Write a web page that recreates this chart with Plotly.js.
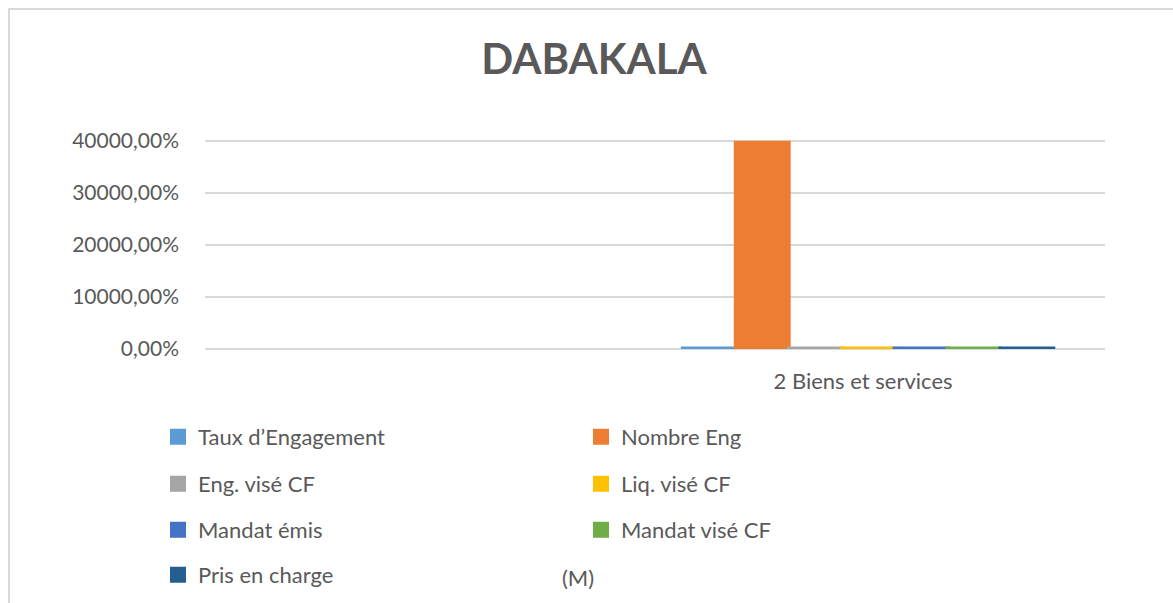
<!DOCTYPE html>
<html>
<head>
<meta charset="utf-8">
<script src="https://cdn.plot.ly/plotly-3.0.1.min.js"></script>
<style>
  html, body { margin: 0; padding: 0; background: #ffffff; }
  #chart { width: 1173px; height: 603px; position: absolute; left: 0; top: 0; }
  #frame { position: absolute; left: 8px; top: 8px; width: 1165px; height: 595px;
           border-left: 2px solid #d9d9d9; border-top: 2px solid #d9d9d9; pointer-events: none; }
</style>
</head>
<body>
<div id="chart"></div>
<div id="frame"></div>
<script>
// ---- data ----
var categories = [" ", "2 Biens et services"];
var seriesNames = ["Taux d\u2019Engagement", "Nombre Eng", "Eng. vis\u00e9 CF", "Liq. vis\u00e9 CF",
                   "Mandat \u00e9mis", "Mandat vis\u00e9 CF", "Pris en charge"];
var tauxEngagement = [null, 0.8];
var nombreEng      = [null, 397];
var engViseCF      = [null, 0.8];
var liqViseCF      = [null, 0.8];
var mandatEmis     = [null, 0.8];
var mandatViseCF   = [null, 0.8];
var prisEnCharge   = [null, 0.8];
var yTicks = [0, 100, 200, 300, 400];
var extraLegendText = "(M)";

var seriesValues = [tauxEngagement, nombreEng, engViseCF, liqViseCF, mandatEmis, mandatViseCF, prisEnCharge];
var colors = ["#5B9BD5", "#ED7D31", "#A5A5A5", "#FFC000", "#4472C4", "#70AD47", "#255E91"];
var legendIds = ["legend", "legend", "legend2", "legend2", "legend3", "legend3", "legend4"];

var traces = seriesNames.map(function (name, i) {
  return {
    type: "bar",
    name: name,
    x: categories,
    y: seriesValues[i],
    marker: { color: colors[i], line: { color: colors[i], width: 4 } },
    legend: legendIds[i],
    hoverinfo: "skip"
  };
});

var txt = "#595959";
var fam = "Lato, 'Open Sans', sans-serif";
var legendFont = { family: fam, size: 22, color: txt };
function mkLegend(yPaper) {
  return {
    orientation: "h", x: (158 - 205) / 900, xanchor: "left", y: yPaper, yanchor: "middle",
    entrywidth: 378, entrywidthmode: "pixels", font: legendFont,
    bgcolor: "rgba(0,0,0,0)", borderwidth: 0, traceorder: "normal"
  };
}
// plot area: top 139px, bottom 349px (height 210)
function py(p) { return (349 - p) / 210; }

var layout = {
  width: 1173, height: 603,
  margin: { l: 205, r: 68, t: 139, b: 254, autoexpand: false },
  paper_bgcolor: "#ffffff", plot_bgcolor: "#ffffff",
  separators: ", ",
  title: {
    text: "<b>DABAKALA</b>",
    font: { family: fam, size: 42, color: txt },
    x: 594 / 1173, xref: "container", xanchor: "center",
    y: 1 - 59 / 603, yref: "container", yanchor: "middle"
  },
  barmode: "group", bargap: 0.162, bargroupgap: 0,
  xaxis: {
    type: "category", range: [-0.5, 1.536], automargin: false,
    showgrid: false, zeroline: false, showline: false,
    ticks: "", ticklabelstandoff: 17, ticklabelshift: -5,
    tickfont: { family: fam, size: 22, color: txt },
    fixedrange: true
  },
  yaxis: {
    range: [0, 404], tickvals: yTicks, tickformat: ".2%", automargin: false,
    showgrid: true, gridcolor: "#d9d9d9", gridwidth: 1.5,
    zeroline: true, zerolinecolor: "#d9d9d9", zerolinewidth: 1.5,
    showline: false, ticks: "", ticklabelstandoff: 25,
    tickfont: { family: fam, size: 21, color: txt },
    fixedrange: true
  },
  legend: mkLegend(py(437)),
  legend2: mkLegend(py(484)),
  legend3: mkLegend(py(530)),
  legend4: mkLegend(py(575)),
  annotations: [{
    text: extraLegendText, xref: "paper", yref: "paper",
    x: (578 - 205) / 900, y: py(577), xanchor: "center", yanchor: "middle",
    showarrow: false, font: legendFont
  }],
  showlegend: true
};

Plotly.newPlot("chart", traces, layout, { displayModeBar: false, staticPlot: true });
</script>
</body>
</html>
